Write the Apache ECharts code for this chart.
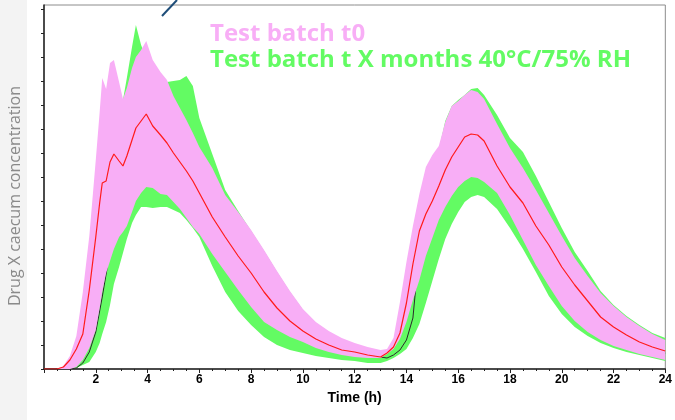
<!DOCTYPE html>
<html><head><meta charset="utf-8">
<script src="https://cdn.jsdelivr.net/npm/echarts@6/dist/echarts.min.js"></script>
<style>html,body{margin:0;padding:0;background:#fff}#c{width:675px;height:420px}</style>
</head><body><div id="c"></div>
<script>
// Time (h)
const time = [0,0.5,0.75,1,1.25,1.5,1.75,2,2.15,2.25,2.4,2.55,2.7,2.9,3.05,3.2,3.4,3.55,3.75,3.95,4.2,4.5,4.75,5,5.25,5.5,5.75,6,6.5,7,7.5,8,8.5,9,9.5,10,10.5,11,11.5,12,12.5,13,13.25,13.5,13.75,14,14.25,14.5,14.75,15,15.25,15.5,15.75,16,16.25,16.5,16.75,17,17.5,18,18.5,19,19.5,20,20.5,21,21.5,22,22.5,23,23.5,24];
// Test batch t0: band (high / low) and median
const t0High = [0,0,3,13,33,77,133,209,257,291,280,306,309,287,270,281,301,312,319,328,309,297,289,273,261,249,236,222,201,174,157,139,119,98,78,60,47,38,31,26,22,19,20,31,67,107,143,175,202,214,223,247,263,268,274,279,277,270,245,221,201,179,156,133,111,93,76,63,52,43,35,29];
const t0Low = [0,0,0,0,2,9,21,39,61,77,96,108,120,132,137,143,157,168,176,182,181,175,174,167,160,151,142,135,115,97,79,62,47,39,32,27,21,17,14,12,11,11,15,20,30,47,69,89,113,131,149,162,173,182,188,192,191,187,176,154,129,104,83,63,48,37,29,23,19,15,12,9];
const t0Median = [0,0,2,9,20,35,79,132,166,186,188,207,215,208,203,213,229,241,248,255,243,234,226,216,207,198,188,176,152,132,113,96,77,61,48,38,30,24,19,17,14,12,16,22,36,66,105,138,155,168,183,199,212,222,232,235,234,228,203,182,166,143,124,102,84,68,52,42,34,27,22,18];
// Test batch t X months 40°C/75% RH: band (high / low) and median
const agedHigh = [0,0,0,1,9,29,69,119,154,179,199,219,234,254,269,291,322,344,324,311,301,291,287,288,289,293,283,251,215,179,158,138,118,97,77,59,46,37,30,25,21,14,15,24,44,74,104,134,164,189,219,248,263,269,274,280,281,274,254,231,217,193,167,141,117,98,78,64,53,44,36,31];
const agedLow = [0,0,0,0,1,4,7,17,26,35,47,64,85,102,116,130,146,154,162,162,161,162,162,159,156,149,141,132,103,77,58,44,32,24,19,16,13,11,9,8,6,6,8,11,15,20,31,45,66,88,110,130,145,157,167,172,174,172,160,141,120,97,73,55,42,33,26,21,17,14,11,8];
const agedMedian = [0,0,0,0,1,6,17,37,58,72,95,119,139,159,169,179,194,204,214,219,221,219,214,209,201,193,181,169,144,121,104,87,71,57,45,35,28,22,18,15,13,12,11,14,19,29,51,120,134,154,174,191,206,217,224,228,228,224,206,184,164,141,119,97,79,64,50,39,31,25,20,16];
// Axis ticks
const xTickValues = [0,2,4,6,8,10,12,14,16,18,20,22,24];
const yTickValues = [0,24,48,72,96,120,144,168,192,216,240,264,288,312,336,360];
const labels = { x: 'Time (h)', y: 'Drug X caecum concentration', t0: 'Test batch t0', aged: 'Test batch t X months 40°C/75% RH' };

const PINK = '#f8aef6', GREEN = '#63fb63';
const pairs = (ys) => time.map((t, i) => [t, ys[i]]);
const bandData = (lo, hi) => time.map((t, i) => [t, lo[i], hi[i]]);

function bandSeries(lo, hi, color, z) {
  return {
    type: 'custom', silent: true, z: z,
    data: bandData(lo, hi),
    encode: { x: 0, y: [1, 2] },
    renderItem: function (params, api) {
      if (params.dataIndex !== 0) return null;
      const n = params.dataInsideLength !== undefined ? params.dataInsideLength : time.length;
      const top = [], bottom = [];
      for (let i = 0; i < time.length; i++) {
        top.push(api.coord([api.value(0, i), api.value(2, i)]));
        bottom.push(api.coord([api.value(0, i), api.value(1, i)]));
      }
      const pts = top.concat(bottom.reverse());
      return { type: 'polygon', shape: { points: pts }, style: { fill: color, stroke: null } };
    }
  };
}

const chart = echarts.init(document.getElementById('c'), null, { renderer: 'canvas' });
chart.setOption({
  animation: false,
  backgroundColor: '#ffffff',
  grid: { left: 44, right: 7, top: 5, bottom: 51, show: true, borderColor: '#8c8c8c', borderWidth: 1, backgroundColor: 'transparent' },
  xAxis: {
    type: 'value', min: 0, max: 24, interval: 2,
    axisLine: { show: true, lineStyle: { color: '#222', width: 1.5 } },
    axisTick: { show: true, length: 4, lineStyle: { color: '#222' } },
    minorTick: { show: true, splitNumber: 4, length: 2, lineStyle: { color: '#222' } },
    splitLine: { show: false },
    axisLabel: { color: '#000', fontWeight: 'bold', fontSize: 12, fontFamily: 'Liberation Sans', margin: 5,
      formatter: (v) => (v === 0 ? '' : String(v)) },
    name: labels.x, nameLocation: 'middle', nameGap: 17,
    nameTextStyle: { color: '#000', fontWeight: 'bold', fontSize: 14, fontFamily: 'Liberation Sans', verticalAlign: 'top' }
  },
  yAxis: {
    type: 'value', min: 0, max: 364, interval: 24,
    axisLine: { show: true, lineStyle: { color: '#222', width: 1.5 } },
    axisTick: { show: true, inside: false, length: 3, customValues: yTickValues, lineStyle: { color: '#222' } },
    axisLabel: { show: false },
    splitLine: { show: false }
  },
  graphic: [
    { type: 'rect', z: -10, shape: { x: 0, y: 0, width: 27, height: 420 }, style: { fill: '#f3f3f3' } },
    { type: 'text', x: 15, y: 196, rotation: Math.PI / 2,
      style: { text: labels.y, fill: '#8a8a8a', font: '16px "Open Sans"', align: 'center', verticalAlign: 'middle' } },
    { type: 'text', x: 210, y: 34, style: { text: labels.t0, fill: PINK, font: 'bold 24px "Open Sans"', verticalAlign: 'middle' } },
    { type: 'text', x: 210, y: 60, style: { text: labels.aged, fill: GREEN, font: 'bold 24px "Open Sans"', verticalAlign: 'middle' } },
    { type: 'line', shape: { x1: 162, y1: 16, x2: 177, y2: 0 }, style: { stroke: '#1f4e79', lineWidth: 2 } }
  ],
  series: [
    bandSeries(agedLow, agedHigh, GREEN, 1),
    { type: 'line', name: 'agedMedian', data: pairs(agedMedian), symbol: 'none', lineStyle: { color: '#2b2b2b', width: 1 }, silent: true, z: 2 },
    bandSeries(t0Low, t0High, PINK, 3),
    { type: 'line', name: 't0Median', data: pairs(t0Median), symbol: 'none', lineStyle: { color: '#ff1a1a', width: 1.2 }, silent: true, z: 4 }
  ]
});
</script></body></html>
